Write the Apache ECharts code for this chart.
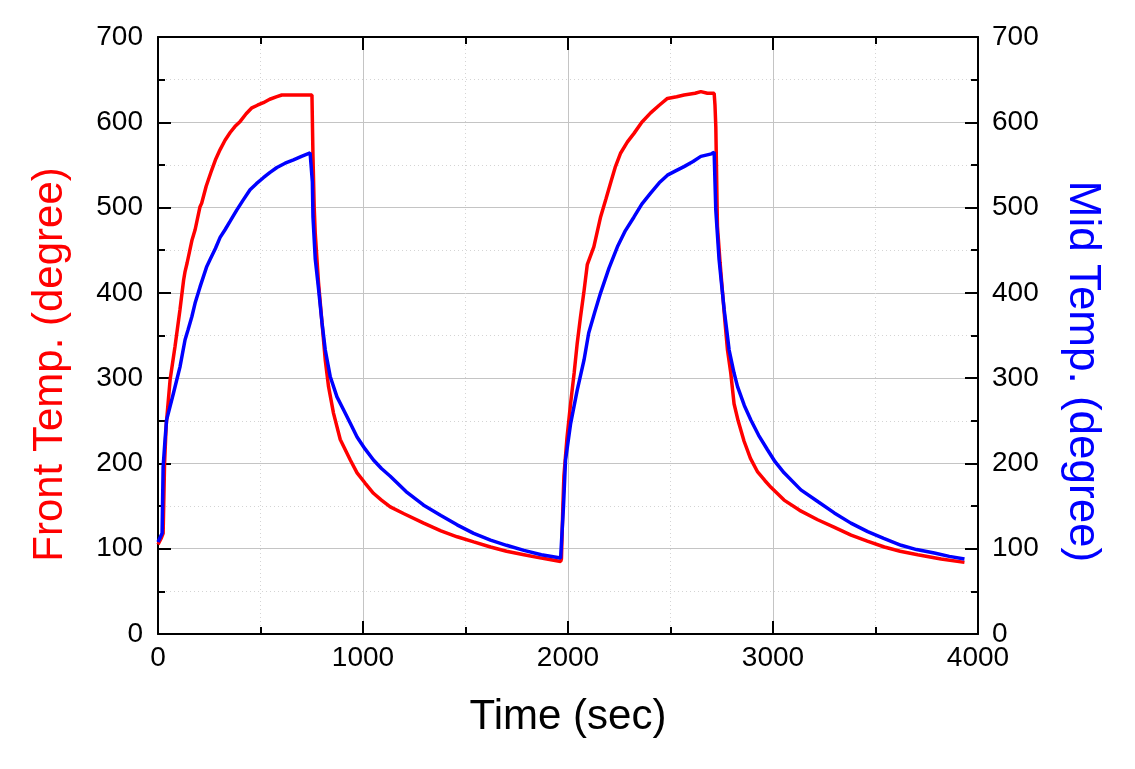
<!DOCTYPE html>
<html>
<head>
<meta charset="utf-8">
<script src="https://cdn.jsdelivr.net/npm/echarts@6/dist/echarts.min.js"></script>
<style>html,body{margin:0;padding:0;background:#fff;}#c{width:1135px;height:769px;}</style>
</head>
<body>
<div id="c"></div>
<script>
// Time (sec) and temperatures (degree)
var frontTime = [0,15,25,32,40,59,83,107,125,132,142,166,181,205,213,235,262,282,303,327,352,375,401,430,458,485,514,545,580,604,680,751,756,762,767,783,800,816,832,856,889,938,971,1010,1051,1090,1133,1200,1296,1380,1459,1540,1622,1700,1785,1870,1964,
  1968,1975,1980,1995,2013,2030,2045,2060,2077,2094,2126,2159,2185,2208,2230,2257,2290,2322,2360,2403,2445,2485,2530,2566,2620,2648,2680,2713,2717,2721,2729,2742,2754,2766,2778,2794,2810,2830,2859,2890,2925,2960,2990,3054,3130,3218,3300,3381,3460,3543,3620,3706,3820,3934];
var frontTemp = [105,112,118,200,245,298,337,380,415,425,435,462,474,501,505,525,544,557,568,579,588,595,601,610,617,620,623,627,630,632,632,632,560,500,470,412,365,321,290,259,228,204,189,177,165,157,149,141,130,121,114,108,102,97,93,89,85,
  88,150,185,230,271,306,341,370,400,433,454,489,510,529,547,564,577,587,600,611,620,628,630,632,634,636,634,634,620,595,478,435,400,365,333,306,270,250,226,206,190,180,172,157,145,134,125,116,109,102,97,93,88,84];
var midTime = [0,20,25,35,42,75,107,132,147,165,181,205,238,254,280,303,327,352,384,416,449,480,514,545,580,620,661,700,742,750,753,756,767,783,800,816,840,873,905,938,971,1010,1051,1090,1133,1210,1296,1380,1459,1540,1622,1700,1785,1870,1964,
  1972,1978,1988,2013,2045,2078,2101,2130,2159,2200,2241,2280,2322,2360,2403,2445,2485,2525,2566,2610,2648,2700,2713,2717,2721,2737,2750,2762,2775,2786,2810,2827,2860,2892,2930,2973,3010,3054,3136,3220,3299,3380,3462,3540,3625,3700,3787,3860,3934];
var midTemp = [108,118,196,230,251,282,313,345,357,372,388,407,431,439,452,465,474,484,497,509,521,528,535,541,547,552,556,560,564,565,530,489,440,405,365,333,302,278,263,247,231,217,204,194,185,167,151,139,128,118,110,104,98,93,89,
  89,150,204,247,286,321,353,377,400,429,454,473,489,504,517,529,538,543,548,554,560,563,565,530,497,439,408,380,355,333,306,290,268,251,233,216,202,189,169,155,142,130,120,112,104,99,95,91,88];
var xTicks = {min: 0, max: 4000, step: 1000};
var yTicks = {min: 0, max: 700, step: 100};

function zip(a, b) { return a.map(function (v, i) { return [v, b[i]]; }); }

var FONT = 'Liberation Sans, Arial, sans-serif';
var axisLine = {show: true, onZero: false, lineStyle: {color: '#000', width: 2}};
var axisTick = {show: true, inside: true, length: 13, lineStyle: {color: '#000', width: 2}};
var minorTick = {show: true, splitNumber: 2, length: 7, lineStyle: {color: '#000', width: 2}};
var labelStyle = {color: '#000', fontSize: 28, fontFamily: FONT, formatter: function (v) { return String(v); }};

var chart = echarts.init(document.getElementById('c'), null, {renderer: 'canvas'});
chart.setOption({
  animation: false,
  backgroundColor: '#fff',
  grid: {left: 158, right: 157, top: 37, bottom: 135, containLabel: false},
  xAxis: [{
    type: 'value', position: 'bottom', min: xTicks.min, max: xTicks.max, interval: xTicks.step,
    axisLine: axisLine, axisTick: axisTick, minorTick: minorTick,
    axisLabel: Object.assign({margin: 10}, labelStyle),
    splitLine: {show: true, lineStyle: {color: '#c4c4c4', width: 1}},
    minorSplitLine: {show: true, lineStyle: {color: '#d4d4d4', width: 1, type: [1, 3]}},
    name: 'Time (sec)', nameLocation: 'middle', nameGap: 62,
    nameTextStyle: {color: '#000', fontSize: 42, fontFamily: FONT}
  }, {
    type: 'value', position: 'top', min: xTicks.min, max: xTicks.max, interval: xTicks.step,
    axisLine: axisLine, axisTick: axisTick, minorTick: minorTick,
    axisLabel: {show: false}, splitLine: {show: false}
  }],
  yAxis: [{
    type: 'value', position: 'left', min: yTicks.min, max: yTicks.max, interval: yTicks.step,
    axisLine: axisLine, axisTick: axisTick, minorTick: minorTick,
    axisLabel: Object.assign({margin: 15}, labelStyle),
    splitLine: {show: true, lineStyle: {color: '#c4c4c4', width: 1}},
    minorSplitLine: {show: true, lineStyle: {color: '#d4d4d4', width: 1, type: [1, 3]}},
    name: 'Front Temp. (degree)', nameLocation: 'middle', nameGap: 87, nameRotate: 90,
    nameTextStyle: {color: '#ff0000', fontSize: 42, fontFamily: FONT, padding: [0, 58, 0, 0]}
  }, {
    type: 'value', position: 'right', min: yTicks.min, max: yTicks.max, interval: yTicks.step,
    axisLine: axisLine, axisTick: axisTick, minorTick: minorTick,
    axisLabel: Object.assign({margin: 14}, labelStyle),
    splitLine: {show: false},
    name: 'Mid Temp. (degree)', nameLocation: 'middle', nameGap: 82, nameRotate: -90,
    nameTextStyle: {color: '#0000ff', fontSize: 44, fontFamily: FONT, padding: [0, 0, 0, 72]}
  }],
  series: [{
    name: 'Front', type: 'line', xAxisIndex: 0, yAxisIndex: 0, showSymbol: false,
    lineStyle: {color: '#ff0000', width: 3.5}, itemStyle: {color: '#ff0000'},
    data: zip(frontTime, frontTemp), z: 3
  }, {
    name: 'Mid', type: 'line', xAxisIndex: 0, yAxisIndex: 1, showSymbol: false,
    lineStyle: {color: '#0000ff', width: 3.5}, itemStyle: {color: '#0000ff'},
    data: zip(midTime, midTemp), z: 4
  }]
});
</script>
</body>
</html>
